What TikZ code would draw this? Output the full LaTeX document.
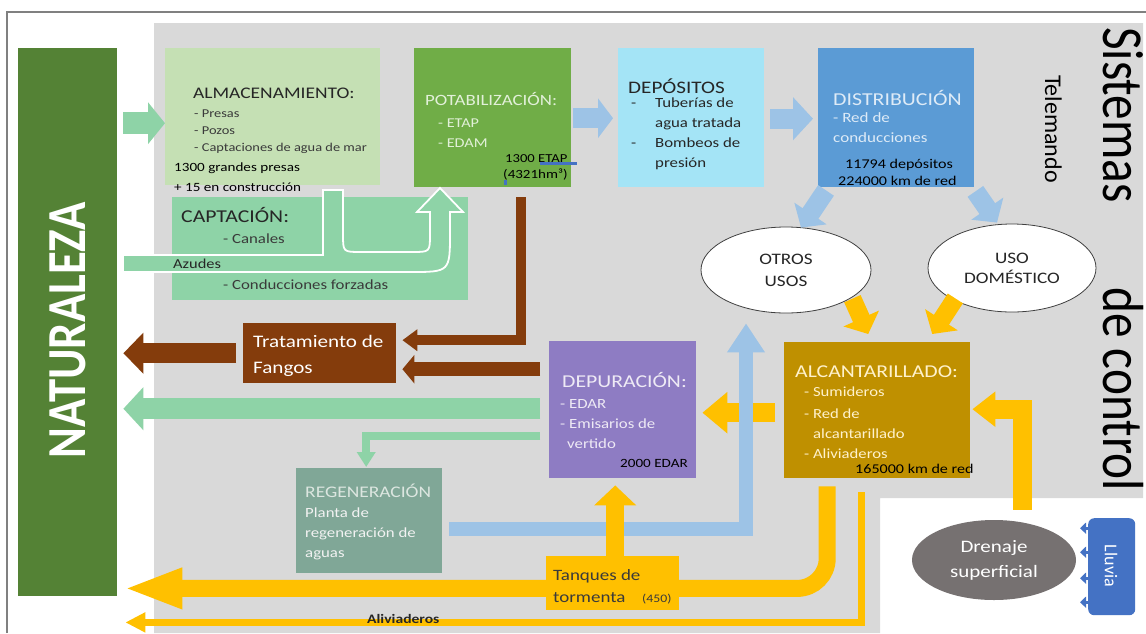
\documentclass[tikz,border=0pt]{standalone}
\usepackage{fontspec}
\setmainfont[FakeStretch=1.2]{Carlito}
\newfontfamily\vfont[FakeStretch=0.85]{Carlito}
\newfontfamily\nfont{Carlito}
\usetikzlibrary{arrows.meta,calc,shapes.geometric}
\newcommand\myfs[1]{\fontsize{#1}{#1}\selectfont}
\newcommand\mytext[5]{\node[anchor=base west,inner sep=0pt,text=#4,font=\myfs{#3}] (#1) at (#2) {#5};}
\definecolor{cnat}{HTML}{548235}
\definecolor{calm}{HTML}{C5E0B4}
\definecolor{ccap}{HTML}{8ED3A7}
\definecolor{cpot}{HTML}{70AD47}
\definecolor{cdep}{HTML}{A4E4F6}
\definecolor{cdist}{HTML}{5B9BD5}
\definecolor{cblue}{HTML}{9DC3E6}
\definecolor{cyel}{HTML}{FFC000}
\definecolor{calc}{HTML}{BF9000}
\definecolor{cdepu}{HTML}{8E7CC3}
\definecolor{cfang}{HTML}{843C0C}
\definecolor{cregen}{HTML}{80A797}
\definecolor{cdren}{HTML}{767171}
\definecolor{clluvia}{HTML}{4472C4}
\definecolor{cgray}{HTML}{D9D9D9}
\definecolor{cframe}{HTML}{808080}
\definecolor{cdark}{HTML}{262626}
\definecolor{cmid}{HTML}{3A3A3A}
\definecolor{cpotT}{HTML}{E2F0D9}
\definecolor{cdistT}{HTML}{DEEBF7}
\definecolor{calcT}{HTML}{FFF2CC}
\definecolor{cdepuT}{HTML}{EEEAF5}
\definecolor{cregT}{HTML}{DCE6E0}
\definecolor{cregT2}{HTML}{F2F2F2}
\begin{document}
\begin{tikzpicture}[x=1pt,y=-1pt,line join=miter,
  box/.style={rectangle,draw=none,inner sep=0pt,anchor=north west},
  garrow/.style={draw=ccap},
  barrow/.style={draw=cblue},
  yarrow/.style={draw=cyel},
  brarrow/.style={draw=cfang}]
\useasboundingbox (0,0) rectangle (1146,633);
\fill[white] (0,0) rectangle (1146,633);
% frame and gray area
\draw[cframe,line width=2pt] (7,633) -- (7,12) -- (1146,12);
\fill[cgray] (154,23) -- (1143,23) -- (1143,498) -- (880,498) -- (880,633) -- (154,633) -- cycle;

% boxes
\node[box,fill=cnat,minimum width=99pt,minimum height=548pt] (nat) at (18,48) {};
\node[box,fill=calm,minimum width=215pt,minimum height=137pt] (alm) at (165,48) {};
\node[box,fill=ccap,minimum width=296pt,minimum height=103pt] (cap) at (172,197) {};
\node[box,fill=cpot,minimum width=157pt,minimum height=139pt] (pot) at (414,48) {};
\node[box,fill=cdep,minimum width=146pt,minimum height=139pt] (dep) at (618,48) {};
\node[box,fill=cdist,minimum width=156pt,minimum height=139pt] (dist) at (818,48) {};
\node[box,fill=calc,minimum width=186pt,minimum height=136pt] (alc) at (784,342) {};
\node[box,fill=cdepu,minimum width=147pt,minimum height=137pt] (depu) at (549,341) {};
\node[box,fill=cfang,minimum width=153pt,minimum height=60pt] (fang) at (243,323) {};
\node[box,fill=cregen,minimum width=146pt,minimum height=105pt] (regen) at (296,468) {};
\node[ellipse,draw=black!75,line width=0.8pt,fill=white,minimum width=170pt,minimum height=86pt,inner sep=0pt,align=center,font=\fontsize{16}{22}\selectfont,text=cdark] (otros) at (786,270) {OTROS\\USOS};
\node[ellipse,draw=black!75,line width=0.8pt,fill=white,minimum width=168pt,minimum height=88pt,inner sep=0pt,align=center,font=\fontsize{16}{20}\selectfont,text=cdark] (uso) at (1012,268) {USO\\DOMÉSTICO};
\node[ellipse,fill=cdren,minimum width=164pt,minimum height=80pt,inner sep=0pt,align=center,font=\fontsize{17.5}{25}\selectfont,text=white] (dren) at (994,560) {Drenaje\\superficial};
\node[box,fill=clluvia,rounded corners=6pt,minimum width=47pt,minimum height=97pt] (lluvia) at (1088,518) {};

% captacion U arrow
\filldraw[fill=ccap,draw=white,line width=1.8pt]
  (123,255) -- (323,255) -- (323,190) -- (343,190) -- (343,234)
  .. controls (343,252) .. (361,252) -- (412,252)
  .. controls (430,252) .. (430,234) -- (430,212) -- (417,212) -- (440,188)
  -- (463,212) -- (450,212) -- (450,232)
  .. controls (450,272) .. (410,272) -- (123,272) -- cycle;

% arrows
\draw[garrow,line width=22pt,-{Triangle[length=17pt,width=41pt]}]
  ($(nat.east |- alm.west)+(6,6.5)$) -- ($(alm.west)+(0,6.5)$);
\draw[barrow,line width=20pt,-{Triangle[length=15pt,width=39pt]}]
  ($(pot.east)+(2,0.5)$) -- ($(dep.west)+(-5,0.5)$);
\draw[barrow,line width=20pt,-{Triangle[length=20pt,width=42pt]}]
  ($(dep.east)+(6,1)$) -- ($(dist.west)+(-5,1)$);
\draw[barrow,line width=19pt,-{Triangle[length=17pt,width=38pt]}]
  ($(dist.south west)+(8,3)$) -- ($(otros.north)+(15,1)$);
\draw[barrow,line width=19pt,-{Triangle[length=17pt,width=38pt]}]
  ($(dist.south east)+(1,4)$) -- ($(uso.north)+(-15,-1)$);
\draw[yarrow,line width=18pt,-{Triangle[length=17pt,width=38pt]}]
  ($(otros.south east)+(6,-2)$) -- ($(alc.north)+(-9,-8)$);
\draw[yarrow,line width=18pt,-{Triangle[length=17pt,width=38pt]}]
  ($(uso.south west)+(3,-1)$) -- ($(alc.north)+(55,-8)$);
\draw[yarrow,line width=19pt,-{Triangle[length=23pt,width=34pt]}]
  ($(dren.north)+(28.5,-10)$) |- ($(alc.east)+(2,-1)$);
\draw[yarrow,line width=19pt,-{Triangle[length=25pt,width=40pt]}]
  ($(alc.west)+(-9,2.5)$) -- ($(depu.east)+(6,3)$);
\draw[barrow,line width=14pt,-{Triangle[length=29pt,width=36pt]}]
  ($(regen.east)+(7,8)$) -| ($(otros.south)+(-40,10)$);
\draw[brarrow,line width=14pt,-{Triangle[length=12pt,width=28pt]}]
  ($(depu.west |- fang.east)+(-9,16)$) -- ($(fang.east)+(6,16)$);
\draw[brarrow,line width=10pt,-{Triangle[length=15pt,width=21pt]}]
  ($(pot.south)+(28.5,10)$) |- ($(fang.east)+(6,-13)$);
\draw[brarrow,line width=20pt,-{Triangle[length=20pt,width=40pt]}]
  ($(fang.west)+(-7,0)$) -- ($(nat.east |- fang.west)+(6,0)$);
\draw[garrow,line width=21pt,-{Triangle[length=20pt,width=42pt]}]
  ($(depu.west)+(-9,-1)$) -- ($(nat.east |- depu.west)+(6,-1)$);
\draw[garrow,line width=8pt,-{Triangle[length=15pt,width=18pt]}]
  ($(depu.west)+(-9,26.5)$) -| ($(regen.north)+(-3,-1)$);
\draw[yarrow,line width=17pt,rounded corners=30pt,-{Triangle[length=59pt,width=37pt]}]
  ($(alc.south)+(-50,8)$) |- ($(nat.south east)+(6,-8)$);
\draw[yarrow,line width=7pt,-{Triangle[length=20pt,width=19pt]}]
  ($(alc.south)+(-15.5,14)$) |- ($(nat.south east)+(8,26)$);
\node[box,fill=cyel,minimum width=133pt,minimum height=54pt] (tanq) at (546,556) {};
\draw[yarrow,line width=18pt,-{Triangle[length=20pt,width=41pt]}]
  ($(tanq.north)+(2.5,0)$) -- ($(depu.south)+(-7.5,7)$);
\foreach \dy in {-38.5,-14.5,11.5,35.5}
  \draw[draw=clluvia,line width=3pt,-{Triangle[length=6pt,width=11pt]}]
    ($(lluvia.west)+(3,\dy)$) -- ($(lluvia.west)+(-8,\dy)$);

% stray blue marks
\draw[clluvia,line width=3.5pt] (540,163.5) -- (577,163.5);
\draw[clluvia,line width=3pt] (505,180) -- (505,185);

% texts
\node[rotate=90,inner sep=0pt,text=white,font=\vfont\bfseries\myfs{55}] (tnat) at (68,330) {NATURALEZA};
\node[rotate=-90,anchor=base west,inner sep=0pt,text=black,font=\vfont\myfs{58}] (tsis) at (1103,27) {Sistemas};
\node[rotate=-90,anchor=base west,inner sep=0pt,text=black,font=\vfont\myfs{58}] (tdec) at (1103,287) {de control};
\node[rotate=-90,anchor=base west,inner sep=0pt,text=black,font=\nfont\myfs{24}] (ttel) at (1045,75) {Telemando};
\node[rotate=-90,inner sep=0pt,text=white,font=\nfont\myfs{18}] (tllu) at (1111,566) {Lluvia};

\mytext{ta1}{193,98}{16.2}{cdark}{ALMACENAMIENTO:}
\mytext{ta2}{194,117}{12}{cmid}{- Presas}
\mytext{ta3}{194,134}{12}{cmid}{- Pozos}
\mytext{ta4}{194,151}{12}{cmid}{- Captaciones de agua de mar}
\mytext{ta5}{174,171}{12.6}{black}{1300 grandes presas}
\mytext{ta6}{174,191}{12.6}{black}{+ 15 en construcción}

\mytext{tc1}{181,222}{18.1}{cdark}{CAPTACIÓN:}
\mytext{tc2}{223,243}{14}{cmid}{- Canales}
\mytext{tc3}{173,268}{13.7}{cdark}{Azudes}
\mytext{tc4}{223,289}{14}{cmid}{- Conducciones forzadas}

\mytext{tp1}{425,105}{15.7}{cpotT}{POTABILIZACIÓN:}
\mytext{tp2}{438,127}{13.5}{cpotT}{- ETAP}
\mytext{tp3}{438,147}{13.5}{cpotT}{- EDAM}
\mytext{tp4}{505,162}{12.2}{black}{1300 ETAP}
\mytext{tp5}{503,178}{12.5}{black}{(4321hm³)}

\mytext{td1}{628,93}{17.6}{cdark}{DEPÓSITOS}
\mytext{td2}{631,107}{14}{cdark}{-}
\mytext{td3}{655,107}{14}{cdark}{Tuberías de}
\mytext{td4}{655,127}{14}{cdark}{agua tratada}
\mytext{td5}{631,147}{14}{cdark}{-}
\mytext{td6}{655,147}{14}{cdark}{Bombeos de}
\mytext{td7}{655,167}{14}{cdark}{presión}

\mytext{ts1}{833,105}{18.2}{cdistT}{DISTRIBUCIÓN}
\mytext{ts2}{833,122}{14.2}{cdistT}{- Red de}
\mytext{ts3}{833,142}{14.2}{cdistT}{conducciones}
\mytext{ts4}{845,168}{13.4}{black}{11794 depósitos}
\mytext{ts5}{838,185}{13.4}{black}{224000 km de red}

\mytext{tl1}{795,377}{18.1}{calcT}{ALCANTARILLADO:}
\mytext{tl2}{804,396}{13.9}{calcT}{- Sumideros}
\mytext{tl3}{804,418}{13.9}{calcT}{- Red de}
\mytext{tl4}{813,438}{13.9}{calcT}{alcantarillado}
\mytext{tl5}{804,458}{13.9}{calcT}{- Aliviaderos}
\mytext{tl6}{855,473}{13.4}{black}{165000 km de red}

\mytext{tu1}{562,387}{18.1}{cdepuT}{DEPURACIÓN:}
\mytext{tu2}{560,408}{14}{cdepuT}{- EDAR}
\mytext{tu3}{560,428}{14}{cdepuT}{- Emisarios de}
\mytext{tu4}{567,448}{14}{cdepuT}{vertido}
\mytext{tu5}{620,467}{12.6}{black}{2000 EDAR}

\mytext{tf1}{253,347}{17.6}{white}{Tratamiento de}
\mytext{tf2}{253,373}{17.6}{white}{Fangos}

\mytext{tr1}{305,497}{16.2}{cregT}{REGENERACIÓN}
\mytext{tr2}{305,517}{14}{cregT2}{Planta de}
\mytext{tr3}{305,537}{14}{cregT2}{regeneración de}
\mytext{tr4}{305,557}{14}{cregT2}{aguas}

\mytext{tt1}{553,580}{15.8}{cmid}{Tanques de}
\mytext{tt2}{553,602}{15.8}{cmid}{tormenta}
\mytext{tt3}{642,602}{11.5}{cmid}{(450)}

\node[anchor=base west,inner sep=0pt,text=cdark,font=\bfseries\myfs{13}] (taliv) at (367,623) {Aliviaderos};
\end{tikzpicture}
\end{document}
